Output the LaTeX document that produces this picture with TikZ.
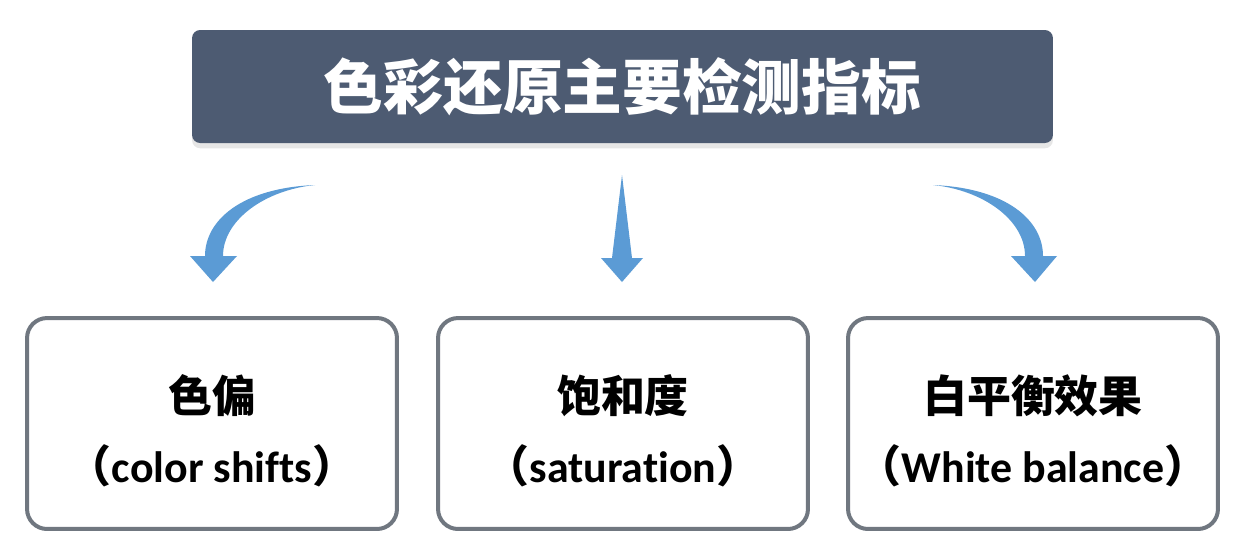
\documentclass[tikz,border=0pt]{standalone}
\usepackage{fontspec}
\setmainfont{Carlito}[Ligatures=NoCommon]
\newfontfamily\cjk{Noto Sans CJK SC}
\usetikzlibrary{shadows}
\definecolor{titleblue}{RGB}{77,91,114}
\definecolor{boxgray}{RGB}{112,119,128}
\definecolor{arrowblue}{RGB}{91,155,213}

\begin{document}
\begin{tikzpicture}[x=0.02cm,y=-0.02cm,
  title node/.style={rectangle,rounded corners=0.16cm,fill=titleblue,text=white,
    minimum width=17.22cm,minimum height=2.26cm,font=\cjk\bfseries\fontsize{34}{40}\selectfont,
    drop shadow={shadow xshift=0pt,shadow yshift=-3pt,opacity=0.2}},
  item node/.style={rectangle,rounded corners=0.4cm,draw=boxgray,line width=0.08cm,fill=white,
    minimum width=7.4cm,minimum height=4.22cm},
  item text/.style={align=center,font=\bfseries\fontsize{25}{40}\selectfont},
  bend arrow/.style={fill=arrowblue}]

  \useasboundingbox (0,0) rectangle (1239,556);

  \node[title node] (title) at (622.5,86.5) {色彩还原主要检测指标};
  \node[item node] (cs) at (212,423.5) {};
  \node[item node] (sat) at (623,423.5) {};
  \node[item node] (wb) at (1033,423.5) {};
  \node[item text] (cs text) at (212,431) {{\cjk 色偏}\\{\cjk（}color shifts{\cjk）}};
  \node[item text] (sat text) at (623,431) {{\cjk 饱和度}\\{\cjk（}saturation{\cjk）}};
  \node[item text] (wb text) at (1033,431) {{\cjk 白平衡效果}\\{\cjk（}White balance{\cjk）}};

  % arrows
  \fill[bend arrow] (190,256) -- (205,256) .. controls (205,220) and (242,188) .. (315,185)
    .. controls (265,190) and (223,220) .. (223,256) -- (237,256) -- (213,282) -- cycle;
  \fill[bend arrow] (622,175) -- (632,258) -- (643,258) -- (622,282) -- (601,258) -- (612,258) -- cycle;
  \fill[bend arrow] (1057,256) -- (1043,256) .. controls (1043,220) and (1006,188) .. (933,185)
    .. controls (983,190) and (1025,220) .. (1025,256) -- (1011,256) -- (1035,282) -- cycle;

\end{tikzpicture}
\end{document}
